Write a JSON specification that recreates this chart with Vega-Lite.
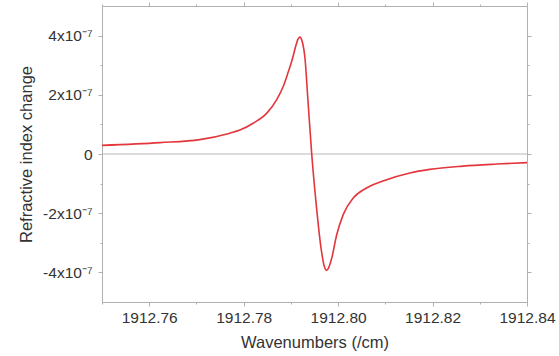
{
  "$schema": "https://vega.github.io/schema/vega-lite/v6.json",
  "autosize": "none",
  "width": 425,
  "height": 296,
  "padding": {"left": 102, "top": 6, "right": 32, "bottom": 54},
  "background": "white",
  "config": {
    "view": {"stroke": "#b0b0b0", "strokeWidth": 1},
    "axis": {
      "labelFont": "Liberation Sans",
      "titleFont": "Liberation Sans",
      "labelFontSize": 15.5,
      "titleFontSize": 16.5,
      "titleFontWeight": "normal",
      "labelColor": "#333333",
      "titleColor": "#333333",
      "domainColor": "#b0b0b0",
      "tickColor": "#b0b0b0",
      "grid": false
    }
  },
  "datasets": {
    "curve": [
      {"w": 1912.75, "n": 2.92e-8},
      {"w": 1912.7623, "n": 3.85e-8},
      {"w": 1912.7707, "n": 4.87e-8},
      {"w": 1912.7771, "n": 7.04e-8},
      {"w": 1912.7792, "n": 8.07e-8},
      {"w": 1912.782, "n": 1.04e-7},
      {"w": 1912.7849, "n": 1.38e-7},
      {"w": 1912.787, "n": 1.84e-7},
      {"w": 1912.7884, "n": 2.29e-7},
      {"w": 1912.7894, "n": 2.75e-7},
      {"w": 1912.7903, "n": 3.2e-7},
      {"w": 1912.791, "n": 3.63e-7},
      {"w": 1912.7915, "n": 3.88e-7},
      {"w": 1912.7919, "n": 3.95e-7},
      {"w": 1912.7924, "n": 3.8e-7},
      {"w": 1912.793, "n": 3.21e-7},
      {"w": 1912.7936, "n": 1.84e-7},
      {"w": 1912.7944, "n": 2e-9},
      {"w": 1912.7953, "n": -1.6e-7},
      {"w": 1912.7965, "n": -3.31e-7},
      {"w": 1912.797, "n": -3.75e-7},
      {"w": 1912.7976, "n": -3.93e-7},
      {"w": 1912.798, "n": -3.84e-7},
      {"w": 1912.7986, "n": -3.55e-7},
      {"w": 1912.7997, "n": -2.73e-7},
      {"w": 1912.8011, "n": -2.04e-7},
      {"w": 1912.8032, "n": -1.49e-7},
      {"w": 1912.806, "n": -1.15e-7},
      {"w": 1912.8095, "n": -9.1e-8},
      {"w": 1912.8152, "n": -6.4e-8},
      {"w": 1912.8194, "n": -5.2e-8},
      {"w": 1912.8264, "n": -4.1e-8},
      {"w": 1912.8336, "n": -3.4e-8},
      {"w": 1912.84, "n": -2.9e-8}
    ],
    "zero": [{"z": 0}]
  },
  "resolve": {"axis": {"x": "independent", "y": "independent"}},
  "layer": [
    {
      "data": {"name": "zero"},
      "mark": {"type": "rule", "color": "#b8b8b8", "strokeWidth": 1},
      "encoding": {
        "y": {"field": "z", "type": "quantitative",
          "scale": {"domain": [-5e-7, 5e-7], "nice": false, "zero": false},
          "axis": {"orient": "right", "labels": false, "title": null, "domain": false,
            "values": [-4e-7, -3e-7, -2e-7, -1e-7, 0, 1e-7, 2e-7, 3e-7, 4e-7],
            "tickSize": {"condition": {"test": "round(datum.value*1e7) % 2 == 0", "value": 4}, "value": 2}}
        }
      }
    },
    {
      "data": {"name": "curve"},
      "mark": {"type": "line", "color": "#e3363d", "strokeWidth": 1.6, "interpolate": "monotone"},
      "encoding": {
        "x": {"field": "w", "type": "quantitative",
          "scale": {"domain": [1912.75, 1912.84], "nice": false, "zero": false},
          "axis": {"orient": "bottom", "title": "Wavenumbers (/cm)",
            "values": [1912.75, 1912.76, 1912.77, 1912.78, 1912.79, 1912.8, 1912.81, 1912.82, 1912.83, 1912.84],
            "labelExpr": "round(datum.value*1000) % 20 == 0 ? format(datum.value, '.2f') : ''",
            "tickSize": {"condition": {"test": "round(datum.value*1000) % 20 == 0", "value": 4}, "value": 2},
            "labelPadding": 4, "titlePadding": 9, "labelFlush": false}
        },
        "y": {"field": "n", "type": "quantitative",
          "scale": {"domain": [-5e-7, 5e-7], "nice": false, "zero": false},
          "axis": {"orient": "left", "title": "Refractive index change",
            "values": [-4e-7, -3e-7, -2e-7, -1e-7, 0, 1e-7, 2e-7, 3e-7, 4e-7],
            "labelExpr": "round(datum.value*1e7) % 2 == 0 ? (round(datum.value*1e7) == 0 ? '0' : toString(round(datum.value*1e7)) + 'x10⁻⁷') : ''",
            "tickSize": {"condition": {"test": "round(datum.value*1e7) % 2 == 0", "value": 4}, "value": 2},
            "labelPadding": 6, "titlePadding": 8}
        }
      }
    },
    {
      "data": {"name": "curve"},
      "mark": {"type": "point", "opacity": 0},
      "encoding": {
        "x": {"field": "w", "type": "quantitative",
          "scale": {"domain": [1912.75, 1912.84], "nice": false, "zero": false},
          "axis": {"orient": "top", "labels": false, "title": null, "domain": false,
            "values": [1912.75, 1912.76, 1912.77, 1912.78, 1912.79, 1912.8, 1912.81, 1912.82, 1912.83, 1912.84],
            "tickSize": {"condition": {"test": "round(datum.value*1000) % 20 == 0", "value": 4}, "value": 2}}
        },
        "y": {"field": "n", "type": "quantitative", "scale": {"domain": [-5e-7, 5e-7], "nice": false, "zero": false}, "axis": null}
      }
    }
  ]
}
